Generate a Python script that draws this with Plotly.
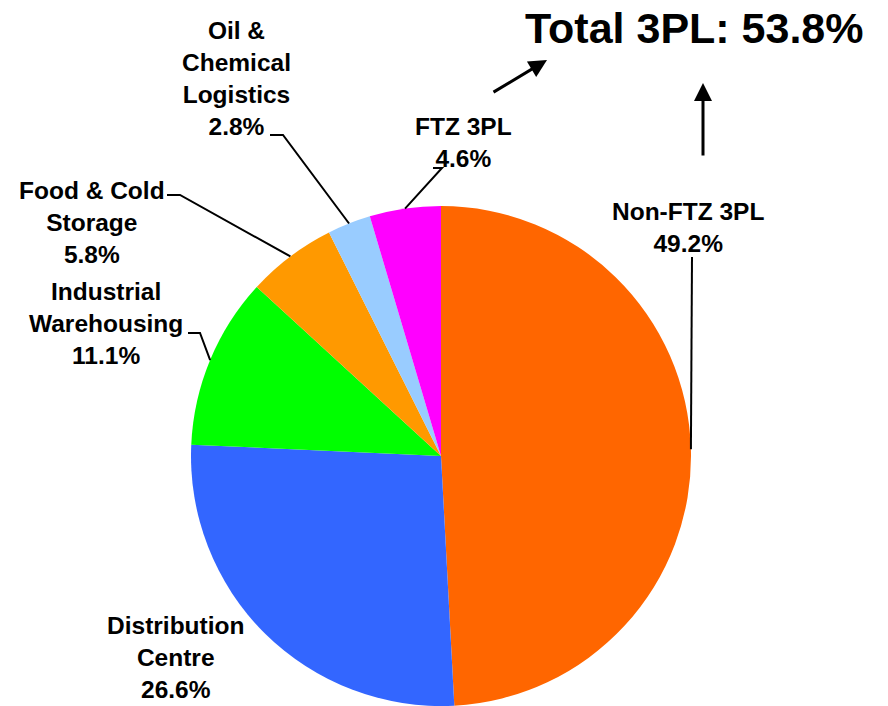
import math
import plotly.graph_objects as go

# ---- data ----
labels = ["Non-FTZ 3PL", "Distribution Centre", "Industrial Warehousing",
          "Food & Cold Storage", "Oil & Chemical Logistics", "FTZ 3PL"]
label_lines = ["Non-FTZ 3PL", "Distribution<br>Centre", "Industrial<br>Warehousing",
               "Food & Cold<br>Storage", "Oil &<br>Chemical<br>Logistics", "FTZ 3PL"]
values = [49.2, 26.6, 11.1, 5.8, 2.8, 4.6]
colors = ["#FF6600", "#3366FF", "#00FF00", "#FF9900", "#99CCFF", "#FF00FF"]
total_text = "Total 3PL: 53.8%"

# ---- layout geometry (screen pixels; page body adds an 8px offset) ----
W, H = 888, 706
OFF = 8


def px(x, y):
    """screen pixel -> paper coordinates"""
    return (x - OFF) / W, 1 - (y - OFF) / H


pie_left, pie_right, pie_top, pie_bottom = 190, 692, 206, 706
dom_x = [px(pie_left, 0)[0], px(pie_right, 0)[0]]
dom_y = [px(0, pie_bottom)[1], px(0, pie_top)[1]]
cx = (pie_left + pie_right) / 2
cy = (pie_top + pie_bottom) / 2
R = min(pie_right - pie_left, pie_bottom - pie_top) / 2

# label block centres (px) and leader elbows (px) per slice (None = no leader)
label_pos = [(688, 227), (175, 657), (106, 323), (92, 222), (237, 79), (463, 142)]
leader_start = [[(692, 257)], None, [(188, 333), (200, 333)], [(167, 195), (180, 195)],
                [(270, 135), (283, 135)], [(433, 168), (442, 168)]]
FONT = "Liberation Sans, Arial, sans-serif"

fig = go.Figure(go.Pie(
    labels=labels, values=values, sort=False, direction="clockwise", rotation=0,
    marker=dict(colors=colors, line=dict(width=0)),
    textinfo="none", hoverinfo="label+percent", showlegend=False,
    domain=dict(x=dom_x, y=dom_y),
))

total = sum(values)
annotations = []
shapes = []
cum = 0.0
for i, v in enumerate(values):
    mid = (cum + v / 2) / total * 2 * math.pi
    cum += v
    ex, ey = cx + R * math.sin(mid), cy - R * math.cos(mid)
    lx, ly = label_pos[i]
    ax_, ay_ = px(lx, ly)
    annotations.append(dict(
        x=ax_, y=ay_, xref="paper", yref="paper",
        text=f"<b>{label_lines[i]}<br>{v:.1f}%</b>", showarrow=False,
        xanchor="center", yanchor="middle", align="center",
        font=dict(family=FONT, size=24.5, color="black"),
    ))
    if leader_start[i]:
        pts = leader_start[i] + [(ex, ey)]
        path = ""
        for j, (a, b) in enumerate(pts):
            qx, qy = px(a, b)
            path += ("M" if j == 0 else " L") + f" {qx:.5f} {qy:.5f}"
        shapes.append(dict(type="path", path=path, xref="paper", yref="paper",
                           line=dict(color="black", width=2)))

# total title
tx_, ty_ = px(694, 28)
annotations.append(dict(
    x=tx_, y=ty_, xref="paper", yref="paper",
    text=f"<b>{total_text}</b>", showarrow=False, xanchor="center", yanchor="middle",
    font=dict(family=FONT, size=43, color="black"),
))
# arrows pointing to total
for (tx, ty), (sx, sy) in [((547, 60), (492, 93)), ((703, 83), (703, 157))]:
    qx, qy = px(tx, ty)
    annotations.append(dict(
        x=qx, y=qy, xref="paper", yref="paper", text="",
        showarrow=True, ax=sx - tx, ay=sy - ty, axref="pixel", ayref="pixel",
        arrowhead=2, arrowsize=1.2, arrowwidth=3, arrowcolor="black",
    ))

fig.update_layout(
    width=W, height=H, margin=dict(l=0, r=0, t=0, b=0),
    paper_bgcolor="white", plot_bgcolor="white",
    annotations=annotations, shapes=shapes,
)
fig.write_html("out.html")
